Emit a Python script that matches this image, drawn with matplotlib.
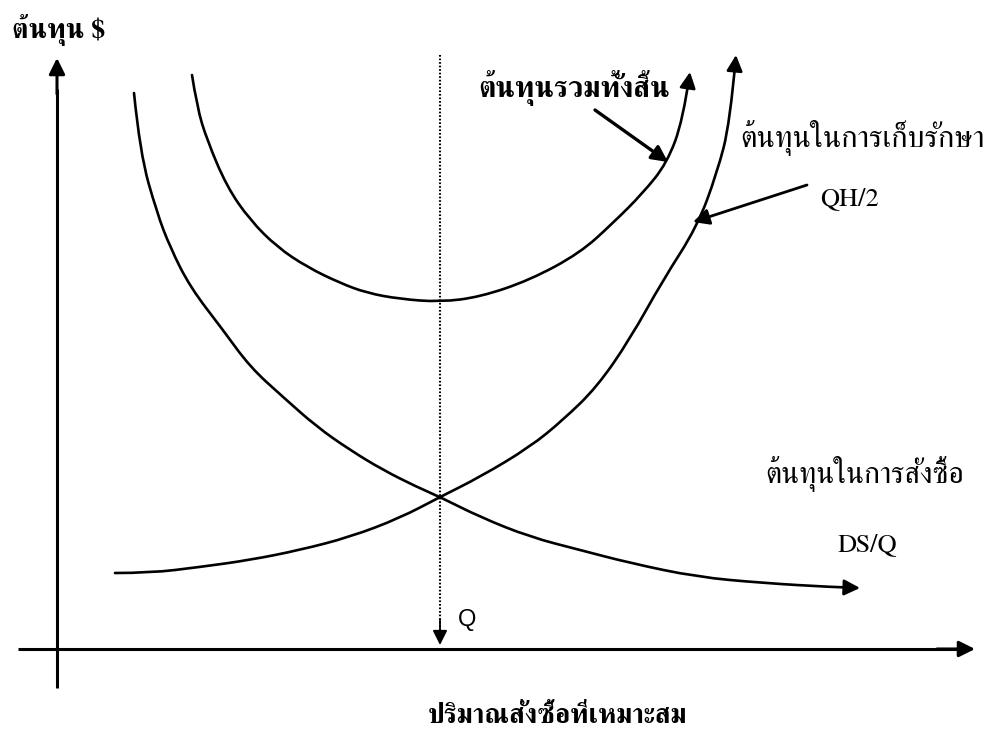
import matplotlib
matplotlib.use("Agg")
import matplotlib.pyplot as plt
from matplotlib.path import Path
from matplotlib.patches import FancyArrowPatch

# EOQ cost diagram; axes origin sits at the corner of the two axis lines
# quantity (q) and cost (c) values
holding_q = [58, 93, 143, 193, 243, 293, 343, 383, 423, 473, 506, 540, 573, 606, 640, 660, 673, 679]
holding_c = [76, 76, 82, 89, 99, 112, 131, 152, 172, 202, 229, 262, 310, 369, 422, 476, 526, 594]

ordering_q = [77, 83, 100, 113, 133, 166, 193, 226, 260, 293, 326, 360, 383, 423, 473, 523, 573, 640, 706, 773, 803]
ordering_c = [556, 496, 436, 402, 362, 319, 282, 252, 222, 199, 179, 162, 152, 132, 112, 99, 86, 72, 66, 62, 61]

total_q = [135, 140, 150, 170, 193, 220, 250, 283, 310, 343, 383, 423, 473, 523, 556, 586, 610, 626, 633]
total_c = [574, 542, 509, 462, 429, 402, 382, 366, 356, 350, 347, 352, 369, 396, 426, 456, 486, 529, 577]

q_opt = 383

labels = {
    "cost_axis": "ต้นทุน $",
    "total": "ต้นทุนรวมทั้งสิ้น",
    "holding": "ต้นทุนในการเก็บรักษา",
    "holding_f": "QH/2",
    "ordering": "ต้นทุนในการสั่งซื้อ",
    "ordering_f": "DS/Q",
    "q": "Q",
    "q_axis": "ปริมาณสั่งซื้อที่เหมาะสม",
}

serif = ["FreeSerif", "Noto Serif Thai", "DejaVu Serif"]


def smooth_path(xs, ys):
    # quadratic pieces through midpoints, read points act as control points
    verts = [(xs[0], ys[0])]
    codes = [Path.MOVETO]
    for i in range(1, len(xs) - 1):
        mx = (xs[i] + xs[i + 1]) / 2
        my = (ys[i] + ys[i + 1]) / 2
        if i == len(xs) - 2:
            mx, my = xs[-1], ys[-1]
        verts += [(xs[i], ys[i]), (mx, my)]
        codes += [Path.CURVE3, Path.CURVE3]
    return Path(verts, codes)


fig = plt.figure(figsize=(9.97, 7.33), dpi=100)
ax = fig.add_axes([0, 0, 1, 1])
ax.set_xlim(-57, 940)
ax.set_ylim(-84, 649)
ax.axis("off")

lw = 1.9
arr = dict(arrowstyle="-|>", color="black", lw=lw, mutation_scale=24, shrinkA=0, shrinkB=0)

# axes
ax.plot([-39, 905], [0, 0], color="black", lw=2.2, solid_capstyle="butt")
ax.annotate("", xy=(918, 0), xytext=(880, 0), arrowprops=dict(arr, lw=2.2))
ax.plot([0, 0], [-39, 560], color="black", lw=2.2, solid_capstyle="butt")
ax.annotate("", xy=(0, 591), xytext=(0, 555), arrowprops=dict(arr, lw=2.2))

# optimal quantity dotted line
ax.plot([q_opt, q_opt], [594, 14], color="black", lw=1.5, ls=(0, (0.8, 0.9)))
ax.annotate("", xy=(q_opt, 4), xytext=(q_opt, 30),
            arrowprops=dict(arrowstyle="-|>", color="black", lw=1.3, mutation_scale=22,
                            shrinkA=0, shrinkB=0))

# cost curves, with arrowheads at their ends
for qs, cs in [(holding_q, holding_c), (ordering_q, ordering_c), (total_q, total_c)]:
    p = FancyArrowPatch(path=smooth_path(qs, cs), arrowstyle="-|>", mutation_scale=24,
                        color="black", lw=lw, transform=ax.transData, capstyle="round",
                        joinstyle="round")
    ax.add_patch(p)

# pointer arrows
ax.annotate("", xy=(611, 487), xytext=(538, 539), arrowprops=dict(arr, lw=2.4))
ax.annotate("", xy=(636, 427), xytext=(750, 464), arrowprops=dict(arr, lw=2.0))

# texts
ax.text(-45, 611, labels["cost_axis"], fontsize=20, fontweight="bold", family=serif, va="baseline")
ax.text(421, 552, labels["total"], fontsize=21, fontweight="bold", family=serif, va="baseline")
ax.text(683, 502, labels["holding"], fontsize=22, family=serif, va="baseline")
ax.text(708, 166, labels["ordering"], fontsize=21.5, family=serif, va="baseline")
ax.text(763, 444, labels["holding_f"], fontsize=19, family=serif, va="baseline")
ax.text(781, 98, labels["ordering_f"], fontsize=19, family=serif, va="baseline")
ax.text(401, 23, labels["q"], fontsize=17, family=["Liberation Sans", "DejaVu Sans"], va="baseline")
ax.text(371, -74, labels["q_axis"], fontsize=19.5, fontweight="bold", family=serif, va="baseline")

fig.savefig("out.png", dpi=100)
